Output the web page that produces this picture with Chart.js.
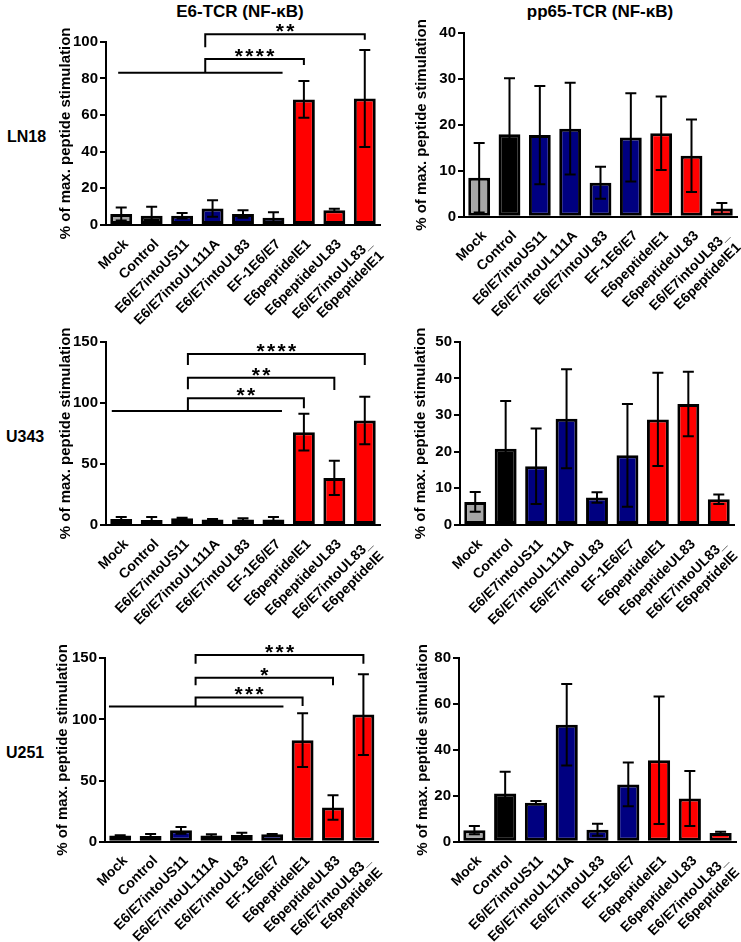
<!DOCTYPE html>
<html lang="en">

<head>
    <meta charset="UTF-8">
    <title>E6-TCR / pp65-TCR (NF-κB)</title>
    <script src="https://cdn.jsdelivr.net/npm/chart.js"></script>
    <style>
        html,
        body {
            margin: 0;
            padding: 0;
            width: 741px;
            height: 942px;
            overflow: hidden;
            background: #fff;
            font-family: "Liberation Sans", Arial, sans-serif;
            font-weight: bold;
            color: #000;
        }

        .fig {
            position: relative;
            width: 741px;
            height: 942px;
        }

        canvas {
            position: absolute;
        }

        .txt {
            position: absolute;
            white-space: nowrap;
            transform: translate(-50%, -50%);
        }

        .row {
            position: absolute;
            font-size: 16px;
            transform: translateY(-50%);
        }
    </style>
</head>

<body>
    <div class="fig">
        <div class="txt" style="left:240px; top:12px; font-size:17px;">E6-TCR (NF-κB)</div>
        <div class="txt" style="left:600px; top:12px; font-size:17px;">pp65-TCR (NF-κB)</div>
        <div class="row" style="left:7px; top:137px;">LN18</div>
        <div class="row" style="left:6px; top:437px;">U343</div>
        <div class="row" style="left:6px; top:753px;">U251</div>

        <canvas id="c1" width="410" height="345" style="left:0; top:0;"></canvas>
        <canvas id="c2" width="386" height="345" style="left:385px; top:0;"></canvas>
        <canvas id="c3" width="410" height="330" style="left:0; top:320px;"></canvas>
        <canvas id="c4" width="386" height="330" style="left:385px; top:320px;"></canvas>
        <canvas id="c5" width="410" height="312" style="left:0; top:630px;"></canvas>
        <canvas id="c6" width="386" height="312" style="left:385px; top:630px;"></canvas>
    </div>

    <script>
        // categories (last label wraps onto two lines)
        const catsLN18 = ['Mock', 'Control', 'E6/E7intoUS11', 'E6/E7intoUL111A', 'E6/E7intoUL83', 'EF-1E6/E7',
            'E6peptideIE1', 'E6peptideUL83', ['E6/E7intoUL83_', 'E6peptideIE1']];
        const catsOther = ['Mock', 'Control', 'E6/E7intoUS11', 'E6/E7intoUL111A', 'E6/E7intoUL83', 'EF-1E6/E7',
            'E6peptideIE1', 'E6peptideUL83', ['E6/E7intoUL83_', 'E6peptideIE']];

        // mean values and error (SD) per panel
        const ln18E6 = [6, 5, 5, 9, 6, 4, 68.5, 8, 69];
        const ln18E6Err = [3.5, 5, 1.5, 4.5, 2, 3, 10, 0.8, 26.5];
        const ln18pp65 = [8.5, 18, 17.8, 19.2, 7.4, 17.3, 18.2, 13.3, 1.8];
        const ln18pp65Err = [7.6, 12.2, 10.7, 10, 3.5, 9.6, 8, 7.9, 1.2];

        const u343E6 = [5, 4, 5.5, 4.5, 4.5, 4.5, 76, 38.5, 85.5];
        const u343E6Err = [1.5, 2.5, 0.5, 0.5, 1, 2, 15, 14, 19.5];
        const u343pp65 = [6.3, 20.8, 16, 29, 7.5, 19, 28.8, 33, 7];
        const u343pp65Err = [2.7, 13, 10.3, 13.5, 1.4, 14, 12.7, 8.8, 1.3];

        const u251E6 = [5, 4.7, 9.3, 5, 5.5, 6, 83, 28, 104];
        const u251E6Err = [0.3, 1.5, 2.8, 1, 1.8, 0.3, 22, 10, 33];
        const u251pp65 = [5, 21, 17, 51, 5.2, 25, 35.5, 18.8, 3.8];
        const u251pp65Err = [1.8, 9.5, 0.7, 17.8, 2.6, 9.5, 27.8, 12, 0.5];

        // y tick labels
        const ticksLN18E6 = [0, 20, 40, 60, 80, 100];
        const ticksLN18pp65 = [0, 10, 20, 30, 40];
        const ticksU343E6 = [0, 50, 100, 150];
        const ticksU343pp65 = [0, 10, 20, 30, 40, 50];
        const ticksU251E6 = [0, 50, 100, 150];
        const ticksU251pp65 = [0, 20, 40, 60, 80];

        // significance: control line [fromCat, toCat, y, splitCat]
        // brackets: [targetCat, yStart, yTop, yEnd, stars]
        const ln18Line = [-0.1, 5.3, 83, 2.76];
        const ln18Sig = [[6, 83, 90.5, 87.3, '****'], [8, 97, 104, 101, '**']];
        const u343Line = [-0.31, 5.28, 93.3, 2.19];
        const u343Sig = [[6, 93.3, 103.7, 95.5, '**'], [7, 111, 120.5, 110.5, '**'], [8, 131, 140, 131, '****']];
        const u251Line = [-0.37, 5.37, 110.5, 2.48];
        const u251Sig = [[6, 110.5, 118, 111, '***'], [7, 128, 134, 128, '*'], [8, 145.5, 152.8, 145.5, '***']];

        const barColors = ['#a6a6a6', '#000000', '#000080', '#000080', '#000080', '#000080', '#ff0000', '#ff0000', '#ff0000'];
        const FONT = "'Liberation Sans', Arial, sans-serif";

        Chart.defaults.font.family = FONT;
        Chart.defaults.font.weight = 'bold';
        Chart.defaults.color = '#000';

        // error bars drawn on top of the bars
        Chart.register({
            id: 'errorBars',
            afterDatasetsDraw(chart) {
                const ctx = chart.ctx;
                const y = chart.scales.y;
                chart.data.datasets.forEach((ds, di) => {
                    chart.getDatasetMeta(di).data.forEach((bar, i) => {
                        const v = ds.data[i], e = ds.errors[i];
                        const top = y.getPixelForValue(v + e);
                        const bot = y.getPixelForValue(Math.max(v - e, 0));
                        ctx.save();
                        ctx.strokeStyle = '#000';
                        ctx.lineWidth = 2;
                        ctx.beginPath();
                        ctx.moveTo(bar.x, top);
                        ctx.lineTo(bar.x, bot);
                        ctx.moveTo(bar.x - 5.5, top);
                        ctx.lineTo(bar.x + 5.5, top);
                        ctx.moveTo(bar.x - 5.5, bot);
                        ctx.lineTo(bar.x + 5.5, bot);
                        ctx.stroke();
                        ctx.restore();
                    });
                });
            }
        });

        function sigPlugin(line, sig) {
            return {
                id: 'sig',
                afterDraw(chart) {
                    const { ctx, scales: { x, y } } = chart;
                    ctx.save();
                    ctx.strokeStyle = '#000';
                    ctx.fillStyle = '#000';
                    ctx.lineWidth = 2;
                    const ly = y.getPixelForValue(line[2]);
                    ctx.beginPath();
                    ctx.moveTo(x.getPixelForValue(line[0]), ly);
                    ctx.lineTo(x.getPixelForValue(line[1]), ly);
                    ctx.stroke();
                    const sx = x.getPixelForValue(line[3]);
                    sig.forEach(([t, lo, hi, end, stars]) => {
                        const tx = x.getPixelForValue(t);
                        const yt = y.getPixelForValue(hi);
                        ctx.beginPath();
                        ctx.moveTo(sx, y.getPixelForValue(lo));
                        ctx.lineTo(sx, yt);
                        ctx.lineTo(tx, yt);
                        ctx.lineTo(tx, y.getPixelForValue(end));
                        ctx.stroke();
                        ctx.font = 'bold 21px ' + FONT;
                        ctx.textAlign = 'center';
                        ctx.textBaseline = 'middle';
                        const mid = (sx + tx) / 2;
                        for (let k = 0; k < stars.length; k++) {
                            ctx.fillText('*', mid + (k - (stars.length - 1) / 2) * 10.5, yt - 2);
                        }
                    });
                    ctx.restore();
                }
            };
        }

        // box: plot area inside the canvas (canvas-local px)
        function makeChart(id, labels, values, errors, ticks, box, extra) {
            const canvas = document.getElementById(id);
            const plugins = extra ? [sigPlugin(extra[0], extra[1])] : [];
            return new Chart(canvas, {
                type: 'bar',
                data: {
                    labels: labels,
                    datasets: [{
                        data: values,
                        errors: errors,
                        backgroundColor: barColors,
                        borderColor: '#000',
                        borderWidth: 3,
                        borderSkipped: false,
                        categoryPercentage: 1,
                        barPercentage: 0.72
                    }]
                },
                options: {
                    responsive: false,
                    animation: false,
                    layout: {
                        padding: { left: box.pl, top: box.top, right: canvas.width - box.right, bottom: 0 }
                    },
                    plugins: { legend: { display: false }, tooltip: { enabled: false } },
                    scales: {
                        x: {
                            grid: { display: false },
                            border: { color: '#000', width: 2 },
                            ticks: { autoSkip: false, minRotation: 45, maxRotation: 45, font: { size: 14 }, padding: 3, labelOffset: 5 },
                            afterFit: (s) => { s.height = canvas.height - box.bottom; }
                        },
                        y: {
                            min: 0,
                            max: ticks[ticks.length - 1],
                            grid: { drawOnChartArea: false, color: '#000', lineWidth: 2, tickLength: 6 },
                            border: { color: '#000', width: 2 },
                            ticks: { stepSize: ticks[1] - ticks[0], font: { size: 15 }, padding: 2 },
                            title: { display: true, text: '% of max. peptide stimulation', font: { size: 15 } },
                            afterFit: (s) => { s.width = box.left - box.pl; }
                        }
                    }
                },
                plugins: plugins
            });
        }

        makeChart('c1', catsLN18, ln18E6, ln18E6Err, ticksLN18E6,
            { pl: 53, left: 106, right: 380, top: 41.7, bottom: 225 }, [ln18Line, ln18Sig]);
        makeChart('c2', catsLN18, ln18pp65, ln18pp65Err, ticksLN18pp65,
            { pl: 24, left: 79, right: 352, top: 33.3, bottom: 216.7 });
        makeChart('c3', catsOther, u343E6, u343E6Err, ticksU343E6,
            { pl: 53, left: 106, right: 380, top: 21.7, bottom: 205 }, [u343Line, u343Sig]);
        makeChart('c4', catsOther, u343pp65, u343pp65Err, ticksU343pp65,
            { pl: 23, left: 75, right: 349, top: 21.7, bottom: 205 });
        makeChart('c5', catsOther, u251E6, u251E6Err, ticksU251E6,
            { pl: 49.5, left: 105, right: 378.6, top: 28.3, bottom: 211.7 }, [u251Line, u251Sig]);
        makeChart('c6', catsOther, u251pp65, u251pp65Err, ticksU251pp65,
            { pl: 24.5, left: 74, right: 351, top: 28.3, bottom: 211.7 });
    </script>
</body>

</html>
